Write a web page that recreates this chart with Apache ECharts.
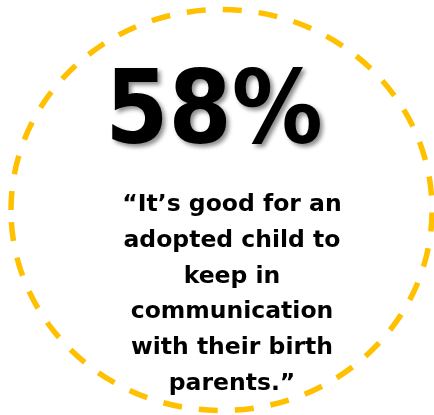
<!DOCTYPE html>
<html>
<head>
<meta charset="utf-8">
<script src="https://cdn.jsdelivr.net/npm/echarts@6/dist/echarts.min.js"></script>
<style>html,body{margin:0;padding:0;background:#fff}#c{width:434px;height:415px}</style>
</head>
<body>
<div id="c"></div>
<script>
var statValue = [58];
var statSuffix = ['%'];
var quoteLines = [
  '\u201CIt\u2019s good for an',
  'adopted child to',
  'keep in',
  'communication',
  'with their birth',
  'parents.\u201D'
];

var chart = echarts.init(document.getElementById('c'), null, {renderer: 'canvas'});
chart.setOption({
  backgroundColor: '#ffffff',
  animation: false,
  graphic: [
    {
      type: 'ellipse',
      shape: {cx: 221.5, cy: 210, rx: 210.5, ry: 200.5},
      style: {fill: 'none', stroke: '#FFC000', lineWidth: 5.5, lineDash: [19, 17], lineDashOffset: 0}
    },
    {
      type: 'text',
      x: 214, y: 117,
      style: {
        text: statValue[0] + statSuffix[0],
        fontFamily: 'DejaVu Sans Condensed',
        fontWeight: 'bold',
        fontSize: 101,
        fill: '#000',
        textAlign: 'center',
        textVerticalAlign: 'middle',
        textShadowColor: 'rgba(0,0,0,0.45)',
        textShadowBlur: 4,
        textShadowOffsetX: 3,
        textShadowOffsetY: 3
      }
    },
    {
      type: 'text',
      x: 232, y: 187,
      style: {
        text: quoteLines.join('\n'),
        fontFamily: 'DejaVu Sans',
        fontWeight: 'bold',
        fontSize: 23.5,
        lineHeight: 35.8,
        fill: '#000',
        textAlign: 'center',
        textVerticalAlign: 'top'
      }
    }
  ]
});
</script>
</body>
</html>
